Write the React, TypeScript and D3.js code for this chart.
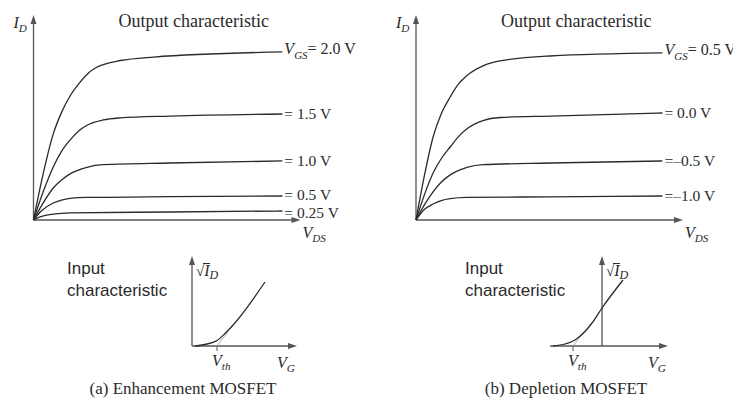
import React from "react";
import * as d3 from "d3";

const W = 733;
const H = 401;

// Output characteristics: [V_DS, I_D] samples per gate voltage (arbitrary units)
const enhLabels = ["2.0 V", "1.5 V", "1.0 V", "0.5 V", "0.25 V"];
const enh20: [number, number][] = [[0, 0], [0.37, 2.3], [0.74, 4.2], [1.05, 5.25], [1.37, 6.05], [1.7, 6.65], [2.0, 7.1], [2.3, 7.4], [2.61, 7.58], [3.25, 7.78], [4.5, 7.95], [9.32, 8.2]];
const enh15: [number, number][] = [[0, 0], [0.37, 1.4], [0.74, 2.59], [1.05, 3.35], [1.37, 3.9], [1.7, 4.35], [2.0, 4.62], [2.61, 4.88], [3.25, 4.98], [5.12, 5.07], [9.32, 5.17]];
const enh10: [number, number][] = [[0, 0], [0.37, 0.85], [0.74, 1.56], [1.05, 1.95], [1.37, 2.25], [2.0, 2.57], [2.61, 2.7], [5.12, 2.78], [9.32, 2.88]];
const enh05: [number, number][] = [[0, 0], [0.3, 0.45], [0.74, 0.83], [1.05, 0.97], [1.37, 1.05], [2.0, 1.1], [5.12, 1.14], [9.32, 1.17]];
const enh025: [number, number][] = [[0, 0], [0.15, 0.1], [0.3, 0.18], [0.74, 0.29], [1.37, 0.35], [5.12, 0.39], [9.32, 0.44]];

const depLabels = ["0.5 V", "0.0 V", "\u20130.5 V", "\u20131.0 V"];
const dep05: [number, number][] = [[0, 0], [0.32, 2.2], [0.64, 4.05], [0.95, 5.2], [1.28, 6.0], [1.6, 6.65], [1.91, 7.05], [2.51, 7.52], [3.15, 7.76], [5.03, 8.0], [9.23, 8.15]];
const dep00: [number, number][] = [[0, 0], [0.32, 1.25], [0.64, 2.29], [0.95, 3.0], [1.28, 3.56], [1.6, 4.08], [1.91, 4.45], [2.51, 4.85], [3.15, 5.0], [5.03, 5.07], [9.23, 5.22]];
const depM05: [number, number][] = [[0, 0], [0.32, 0.75], [0.64, 1.37], [0.95, 1.85], [1.28, 2.2], [1.6, 2.42], [1.91, 2.57], [2.51, 2.7], [5.03, 2.78], [9.23, 2.88]];
const depM10: [number, number][] = [[0, 0], [0.3, 0.5], [0.64, 0.78], [0.95, 0.95], [1.28, 1.04], [1.91, 1.1], [5.03, 1.13], [9.23, 1.17]];

// Input characteristics: [V_G, sqrt(I_D)] samples
const enhVth = 2.5;
const enhInput: [number, number][] = [[0.3, 0], [1.5, 0.2], [2.5, 0.55], [3.3, 1.25], [4.2, 2.2], [7.3, 6.4]];
const depVth = -2.9;
const depInput: [number, number][] = [[-4.9, 0], [-3.7, 0.2], [-2.7, 0.6], [-1.8, 1.35], [-1.0, 2.3], [0, 3.8], [2.1, 6.6]];

const SERIF = "'Liberation Serif', 'Times New Roman', serif";
const SANS = "'Liberation Sans', Arial, sans-serif";
const INK = "#2a2a2a";
const AXIS = "#555";

const Arrow = ({ x, y, dir }: { x: number; y: number; dir: "up" | "right" }) => {
  const p =
    dir === "up"
      ? `M${x},${y} L${x - 3},${y + 9} L${x + 3},${y + 9} Z`
      : `M${x},${y} L${x - 9},${y - 3} L${x - 9},${y + 3} Z`;
  return <path d={p} fill={AXIS} />;
};

const Sub = ({ x, y, main, sub, size = 16 }: { x: number; y: number; main: string; sub: string; size?: number }) => (
  <text x={x} y={y} fontFamily={SERIF} fontSize={size} fill={INK}>
    <tspan fontStyle="italic">{main}</tspan>
    <tspan fontStyle="italic" fontSize={size * 0.7} dy={4}>{sub}</tspan>
  </text>
);

type OutProps = {
  ox: number;
  oy: number;
  series: [number, number][][];
  labels: string[];
};

const OutputPanel = ({ ox, oy, series, labels }: OutProps) => {
  const x = d3.scaleLinear().domain([0, 10]).range([ox, ox + 267]);
  const y = d3.scaleLinear().domain([0, 10]).range([oy, oy - 205]);
  const line = d3
    .line<[number, number]>()
    .x((d) => x(d[0]))
    .y((d) => y(d[1]))
    .curve(d3.curveMonotoneX);
  return (
    <g>
      <line x1={x(0)} y1={y(0)} x2={x(10) - 4} y2={y(0)} stroke={AXIS} strokeWidth={1.3} />
      <line x1={x(0)} y1={y(0)} x2={x(0)} y2={y(10) + 4} stroke={AXIS} strokeWidth={1.3} />
      <Arrow x={x(10)} y={y(0)} dir="right" />
      <Arrow x={x(0)} y={y(10)} dir="up" />
      {series.map((s, i) => (
        <path key={i} d={line(s) || ""} fill="none" stroke={INK} strokeWidth={1.3} />
      ))}
      {series.map((s, i) => {
        const last = s[s.length - 1];
        const lx = x(last[0]) + 2;
        const ly = y(last[1]);
        if (i === 0) {
          return (
            <text key={"l" + i} x={lx} y={ly + 2} fontFamily={SERIF} fontSize={16} fill={INK}>
              <tspan fontStyle="italic">V</tspan>
              <tspan fontStyle="italic" fontSize={11} dy={5}>GS</tspan>
              <tspan dy={-5}>{"= " + labels[i]}</tspan>
            </text>
          );
        }
        const eq = labels[i].startsWith("\u2013") ? "=" : "= ";
        // the two lowest curves sit close together; nudge the bottom label apart
        const nudge = i === series.length - 1 && series.length > 4 ? 1.5 : i === series.length - 2 && series.length > 4 ? -1 : 0;
        return (
          <text key={"l" + i} x={lx} y={ly + nudge} dy="0.35em" fontFamily={SERIF} fontSize={15.5} fill={INK}>
            {eq + labels[i]}
          </text>
        );
      })}
      <text x={ox + 85} y={27} fontFamily={SERIF} fontSize={18} fill={INK}>
        Output characteristic
      </text>
      <Sub x={ox - 20} y={28} main="I" sub="D" />
      <Sub x={x(10) + 2} y={238} main="V" sub="DS" />
    </g>
  );
};

type InProps = {
  x0: number;
  x1: number;
  domain: [number, number];
  data: [number, number][];
  vth: number;
  textX: number;
};

const InputPanel = ({ x0, x1, domain, data, vth, textX }: InProps) => {
  const x = d3.scaleLinear().domain(domain).range([x0, x1]);
  const y = d3.scaleLinear().domain([0, 9]).range([346, 256]);
  const line = d3
    .line<[number, number]>()
    .x((d) => x(d[0]))
    .y((d) => y(d[1]))
    .curve(d3.curveMonotoneX);
  const slope = 1.3;
  const ax = x(0);
  return (
    <g>
      <line x1={x(domain[0])} y1={y(0)} x2={x(domain[1]) - 4} y2={y(0)} stroke={AXIS} strokeWidth={1.3} />
      <line x1={ax} y1={y(0)} x2={ax} y2={y(9) + 4} stroke={AXIS} strokeWidth={1.3} />
      <Arrow x={x(domain[1])} y={y(0)} dir="right" />
      <Arrow x={ax} y={y(9)} dir="up" />
      <line x1={x(vth)} y1={y(0)} x2={x(vth + 1.1)} y2={y(1.1 * slope)} stroke="#999" strokeWidth={0.8} />
      <line x1={x(vth)} y1={y(0)} x2={x(vth)} y2={y(0) + 5} stroke={AXIS} strokeWidth={1} />
      <path d={line(data) || ""} fill="none" stroke={INK} strokeWidth={1.3} />
      <Sub x={x(vth) - 5} y={366} main="V" sub="th" />
      <Sub x={x(domain[1]) - 20} y={368} main="V" sub="G" />
      <g>
        <text x={ax + 4} y={276} fontFamily={SERIF} fontSize={15} fill={INK}>
          {"\u221A"}
          <tspan fontStyle="italic" fontSize={16}>I</tspan>
          <tspan fontStyle="italic" fontSize={12} dy={3}>D</tspan>
        </text>
        <line x1={ax + 11} y1={263.5} x2={ax + 18} y2={263.5} stroke={INK} strokeWidth={1} />
      </g>
      <text x={textX} y={274} fontFamily={SANS} fontSize={17} fill={INK}>Input</text>
      <text x={textX} y={296} fontFamily={SANS} fontSize={17} fill={INK}>characteristic</text>
    </g>
  );
};

export default function App() {
  return (
    <svg width={W} height={H} viewBox={`0 0 ${W} ${H}`} style={{ display: "block", position: "absolute", left: 0, top: 0, background: "#fff" }}>
      <rect width={W} height={H} fill="#fff" />
      <OutputPanel ox={33.5} oy={220} series={[enh20, enh15, enh10, enh05, enh025]} labels={enhLabels} />
      <OutputPanel ox={416} oy={220} series={[dep05, dep00, depM05, depM10]} labels={depLabels} />
      <InputPanel x0={192} x1={297} domain={[0, 10.5]} data={enhInput} vth={enhVth} textX={67} />
      <InputPanel x0={550} x1={668} domain={[-5.2, 6.6]} data={depInput} vth={depVth} textX={465} />
      <text x={183} y={394} textAnchor="middle" fontFamily={SERIF} fontSize={17} fill={INK}>
        (a) Enhancement MOSFET
      </text>
      <text x={566} y={394} textAnchor="middle" fontFamily={SERIF} fontSize={17} fill={INK}>
        (b) Depletion MOSFET
      </text>
    </svg>
  );
}
